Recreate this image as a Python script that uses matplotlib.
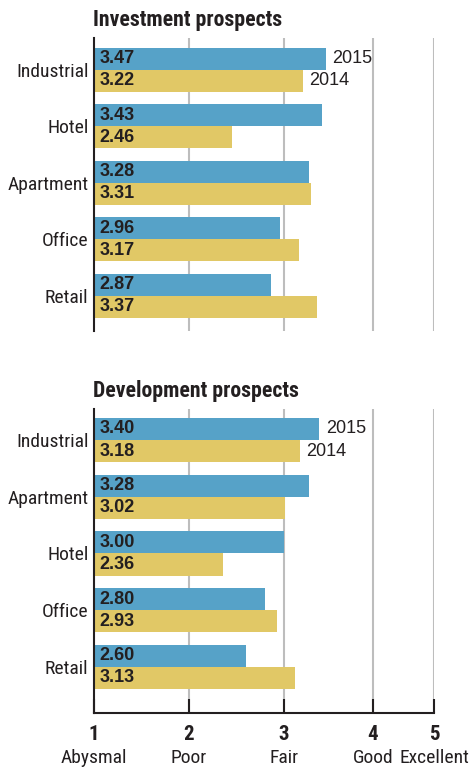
import numpy as np
import matplotlib
matplotlib.use("Agg")
import matplotlib.pyplot as plt
from matplotlib import font_manager

# survey scores, 1 = abysmal ... 5 = excellent
inv_cats = ["Industrial", "Hotel", "Apartment", "Office", "Retail"]
inv_2015 = [3.47, 3.43, 3.28, 2.96, 2.87]
inv_2014 = [3.22, 2.46, 3.31, 3.17, 3.37]

dev_cats = ["Industrial", "Apartment", "Hotel", "Office", "Retail"]
dev_2015 = [3.40, 3.28, 3.00, 2.80, 2.60]
dev_2014 = [3.18, 3.02, 2.36, 2.93, 3.13]

scale_vals = [1, 2, 3, 4, 5]
scale_names = ["Abysmal", "Poor", "Fair", "Good", "Excellent"]

BLUE = "#56a2c8"
GOLD = "#e1c866"
INK = "#231f20"
GRID = "#bdbdbd"

have = {f.name for f in font_manager.fontManager.ttflist}


def pick(*names):
    for n in names:
        if n in have:
            return n
    return "DejaVu Sans"


NARROW = pick("Roboto Condensed", "Archivo Narrow", "Liberation Sans Narrow")
WIDE = pick("Liberation Sans", "Arimo")

# the rating scale is squeezed toward the top end
pos = [0, 94.7, 189.7, 279, 340.3]
fwd = lambda x: np.interp(x, scale_vals, pos)
inv = lambda x: np.interp(x, pos, scale_vals)

fig = plt.figure(figsize=(4.69, 7.67), dpi=100)
ax1 = fig.add_axes([0.2004, 0.5685, 0.7256, 0.382])
ax2 = fig.add_axes([0.2004, 0.0704, 0.7256, 0.3963])


def panel(ax, cats, v15, v14, ylim, bottom_axis):
    ax.set_xscale("function", functions=(fwd, inv))
    y = np.arange(len(cats))
    h = 0.39
    ax.barh(y - h / 2, v15, height=h, left=0, color=BLUE, zorder=2)
    ax.barh(y + h / 2, v14, height=h, left=0, color=GOLD, zorder=2)
    ax.set_xlim(1, 5)
    ax.set_ylim(ylim)
    for xv in scale_vals[1:]:
        ax.axvline(xv, color=GRID, lw=1.5, zorder=1)
    for i in range(len(cats)):
        for val, yy in ((v15[i], y[i] - h / 2), (v14[i], y[i] + h / 2)):
            ax.annotate(f"{val:.2f}", xy=(1, yy), xytext=(4, 0),
                        textcoords="offset points", va="center", ha="left",
                        fontsize=13, fontweight="bold", color=INK,
                        family=WIDE, zorder=3)
    # year keys next to the first pair of bars
    ax.annotate("2015", xy=(v15[0], y[0] - h / 2), xytext=(4.5, 0),
                textcoords="offset points", va="center", fontsize=13,
                color=INK, family=WIDE)
    ax.annotate("2014", xy=(v14[0], y[0] + h / 2), xytext=(4.5, 0),
                textcoords="offset points", va="center", fontsize=13,
                color=INK, family=WIDE)

    ax.set_yticks(y)
    ax.set_yticklabels(cats, family=NARROW, fontsize=14, color=INK)
    ax.tick_params(axis="y", length=0, pad=4)
    for s in ("top", "right"):
        ax.spines[s].set_visible(False)
    ax.spines["left"].set_color(INK)
    ax.spines["left"].set_linewidth(1.5)
    if bottom_axis:
        ax.spines["bottom"].set_color(INK)
        ax.spines["bottom"].set_linewidth(1.5)
        ax.set_xticks(scale_vals)
        ax.set_xticklabels([])
        ax.tick_params(axis="x", direction="in", length=10, width=1.5,
                       color=INK)
        for v, name in zip(scale_vals, scale_names):
            ax.annotate(str(v), xy=(v, 0), xycoords=ax.get_xaxis_transform(),
                        xytext=(0, -19.5), textcoords="offset points",
                        ha="center", va="baseline", fontsize=15,
                        fontweight="bold", color=INK, family=NARROW)
            ax.annotate(name, xy=(v, 0), xycoords=ax.get_xaxis_transform(),
                        xytext=(0, -36), textcoords="offset points",
                        ha="center", va="baseline", fontsize=14,
                        color=INK, family=NARROW)
    else:
        ax.spines["bottom"].set_visible(False)
        ax.set_xticks([])


panel(ax1, inv_cats, inv_2015, inv_2014, (4.62, -0.566), False)
panel(ax2, dev_cats, dev_2015, dev_2014, (4.815, -0.547), True)

fig.text(93 / 469, 1 - 26 / 767, "Investment prospects", fontsize=15.7,
         fontweight="bold", color=INK, family=NARROW, va="baseline")
fig.text(93 / 469, 1 - 397 / 767, "Development prospects", fontsize=15.7,
         fontweight="bold", color=INK, family=NARROW, va="baseline")

fig.savefig("out.png", dpi=100)
